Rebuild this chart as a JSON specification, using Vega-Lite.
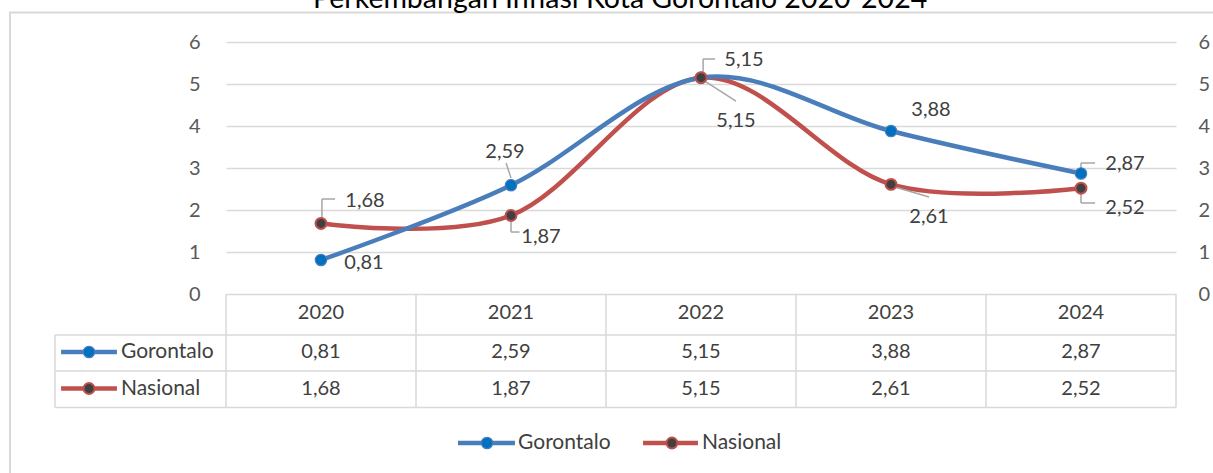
{
  "$schema": "https://vega.github.io/schema/vega-lite/v6.json",
  "autosize": "none",
  "width": 950,
  "height": 252,
  "padding": {"left": 226, "top": 42, "right": 37, "bottom": 179},
  "background": "white",
  "config": {
    "locale": {"number": {"decimal": ",", "thousands": ".", "grouping": [3], "currency": ["", ""]}},
    "view": {"stroke": null},
    "font": "Lato",
    "text": {"font": "Lato", "fontSize": 20, "color": "#404040"},
    "rule": {"color": "#A6A6A6", "strokeWidth": 1.5},
    "axis": {"title": null, "domain": false, "ticks": false, "grid": true, "gridColor": "#D9D9D9", "gridWidth": 1.5, "labelFont": "Lato", "labelFontSize": 20, "labelColor": "#595959", "format": "d", "values": [0, 1, 2, 3, 4, 5, 6]},
    "axisX": {"disable": true}
  },
  "datasets": {
    "inf": [
      {"year": 2020, "series": "Gorontalo", "value": 0.81},
      {"year": 2021, "series": "Gorontalo", "value": 2.59},
      {"year": 2022, "series": "Gorontalo", "value": 5.15},
      {"year": 2023, "series": "Gorontalo", "value": 3.88},
      {"year": 2024, "series": "Gorontalo", "value": 2.87},
      {"year": 2020, "series": "Nasional", "value": 1.68},
      {"year": 2021, "series": "Nasional", "value": 1.87},
      {"year": 2022, "series": "Nasional", "value": 5.15},
      {"year": 2023, "series": "Nasional", "value": 2.61},
      {"year": 2024, "series": "Nasional", "value": 2.52}
    ],
    "title": [{"label": "Perkembangan Inflasi Kota Gorontalo 2020-2024"}]
  },
  "data": {"name": "inf"},
  "layer": [
    {
      "layer": [
        {"data": {"values": [{}]}, "mark": {"type": "rect", "fill": null, "stroke": "#D9D9D9", "strokeWidth": 2},
          "encoding": {"x": {"datum": 2018.363, "type": "quantitative", "scale": {"domain": [2019.5, 2024.5], "nice": false, "zero": false}}, "x2": {"datum": 2025.5}, "y": {"datum": 6.702, "type": "quantitative", "scale": {"domain": [0, 6], "nice": false, "zero": false}}, "y2": {"datum": -5}}},
        {"data": {"name": "title"}, "mark": {"type": "text", "fontSize": 28.5, "color": "#000000", "baseline": "alphabetic", "align": "center"},
          "encoding": {"x": {"datum": 2021.574}, "y": {"datum": 6.81}, "text": {"field": "label"}}},
        {"data": {"values": [{}]}, "mark": {"type": "rule", "color": "#D9D9D9"}, "encoding": {"x": {"datum": 2018.6}, "x2": {"datum": 2024.5}, "y": {"datum": -0.976}}},
        {"data": {"values": [{}]}, "mark": {"type": "rule", "color": "#D9D9D9"}, "encoding": {"x": {"datum": 2018.6}, "x2": {"datum": 2024.5}, "y": {"datum": -1.833}}},
        {"data": {"values": [{}]}, "mark": {"type": "rule", "color": "#D9D9D9"}, "encoding": {"x": {"datum": 2018.6}, "x2": {"datum": 2024.5}, "y": {"datum": -2.702}}},
        {"data": {"values": [{}]}, "mark": {"type": "rule", "color": "#D9D9D9"}, "encoding": {"x": {"datum": 2018.6}, "y": {"datum": -0.976}, "y2": {"datum": -2.702}}},
        {"data": {"values": [{}]}, "mark": {"type": "rule", "color": "#D9D9D9"}, "encoding": {"x": {"datum": 2019.5}, "y": {"datum": 0}, "y2": {"datum": -2.702}}},
        {"data": {"values": [{}]}, "mark": {"type": "rule", "color": "#D9D9D9"}, "encoding": {"x": {"datum": 2020.5}, "y": {"datum": 0}, "y2": {"datum": -2.702}}},
        {"data": {"values": [{}]}, "mark": {"type": "rule", "color": "#D9D9D9"}, "encoding": {"x": {"datum": 2021.5}, "y": {"datum": 0}, "y2": {"datum": -2.702}}},
        {"data": {"values": [{}]}, "mark": {"type": "rule", "color": "#D9D9D9"}, "encoding": {"x": {"datum": 2022.5}, "y": {"datum": 0}, "y2": {"datum": -2.702}}},
        {"data": {"values": [{}]}, "mark": {"type": "rule", "color": "#D9D9D9"}, "encoding": {"x": {"datum": 2023.5}, "y": {"datum": 0}, "y2": {"datum": -2.702}}},
        {"data": {"values": [{}]}, "mark": {"type": "rule", "color": "#D9D9D9"}, "encoding": {"x": {"datum": 2024.5}, "y": {"datum": 0}, "y2": {"datum": -2.702}}},
        {"transform": [{"filter": "datum.series === 'Nasional'"}], "mark": {"type": "line", "interpolate": "cardinal", "tension": 0, "strokeWidth": 4.5, "color": "#C0504D"},
          "encoding": {"x": {"field": "year", "type": "quantitative"}, "y": {"field": "value", "type": "quantitative", "axis": {"orient": "left", "labelPadding": 26}}}},
        {"transform": [{"filter": "datum.series === 'Gorontalo'"}], "mark": {"type": "line", "interpolate": "cardinal", "tension": 0, "strokeWidth": 4.5, "color": "#4A7EBB"},
          "encoding": {"x": {"field": "year", "type": "quantitative"}, "y": {"field": "value", "type": "quantitative"}}},
        {"data": {"values": [{}]}, "mark": {"type": "rule"}, "encoding": {"x": {"datum": 2020.005}, "y": {"datum": 1.714}, "y2": {"datum": 2.262}}},
        {"data": {"values": [{}]}, "mark": {"type": "rule"}, "encoding": {"x": {"datum": 2020.005}, "x2": {"datum": 2020.074}, "y": {"datum": 2.262}}},
        {"data": {"values": [{}]}, "mark": {"type": "rule"}, "encoding": {"x": {"datum": 2020.974}, "y": {"datum": 3.119}, "x2": {"datum": 2021.0}, "y2": {"datum": 2.762}}},
        {"data": {"values": [{}]}, "mark": {"type": "rule"}, "encoding": {"x": {"datum": 2021.0}, "y": {"datum": 1.714}, "y2": {"datum": 1.476}}},
        {"data": {"values": [{}]}, "mark": {"type": "rule"}, "encoding": {"x": {"datum": 2021.0}, "x2": {"datum": 2021.045}, "y": {"datum": 1.476}}},
        {"data": {"values": [{}]}, "mark": {"type": "rule"}, "encoding": {"x": {"datum": 2022.011}, "y": {"datum": 5.286}, "y2": {"datum": 5.595}}},
        {"data": {"values": [{}]}, "mark": {"type": "rule"}, "encoding": {"x": {"datum": 2022.011}, "x2": {"datum": 2022.074}, "y": {"datum": 5.595}}},
        {"data": {"values": [{}]}, "mark": {"type": "rule"}, "encoding": {"x": {"datum": 2022.026}, "y": {"datum": 5.048}, "x2": {"datum": 2022.184}, "y2": {"datum": 4.595}}},
        {"data": {"values": [{}]}, "mark": {"type": "rule"}, "encoding": {"x": {"datum": 2023.021}, "y": {"datum": 2.548}, "x2": {"datum": 2023.2}, "y2": {"datum": 2.31}}},
        {"data": {"values": [{}]}, "mark": {"type": "rule"}, "encoding": {"x": {"datum": 2024.0}, "y": {"datum": 2.95}, "y2": {"datum": 3.119}}},
        {"data": {"values": [{}]}, "mark": {"type": "rule"}, "encoding": {"x": {"datum": 2024.0}, "x2": {"datum": 2024.074}, "y": {"datum": 3.119}}},
        {"data": {"values": [{}]}, "mark": {"type": "rule"}, "encoding": {"x": {"datum": 2024.0}, "y": {"datum": 2.4}, "y2": {"datum": 2.167}}},
        {"data": {"values": [{}]}, "mark": {"type": "rule"}, "encoding": {"x": {"datum": 2024.0}, "x2": {"datum": 2024.074}, "y": {"datum": 2.167}}},
        {"transform": [{"filter": "datum.series === 'Gorontalo'"}], "mark": {"type": "point", "filled": true, "size": 130, "fill": "#0070C0", "stroke": "#4A7EBB", "strokeWidth": 1.2, "opacity": 1},
          "encoding": {"x": {"field": "year", "type": "quantitative"}, "y": {"field": "value", "type": "quantitative"}}},
        {"transform": [{"filter": "datum.series === 'Nasional'"}], "mark": {"type": "point", "filled": true, "size": 120, "fill": "#404040", "stroke": "#C0504D", "strokeWidth": 2, "opacity": 1},
          "encoding": {"x": {"field": "year", "type": "quantitative"}, "y": {"field": "value", "type": "quantitative"}}},
        {"transform": [{"filter": "datum.series === 'Gorontalo' && datum.year === 2020"}], "mark": {"type": "text", "dx": 43, "dy": 3},
          "encoding": {"x": {"field": "year", "type": "quantitative"}, "y": {"field": "value", "type": "quantitative"}, "text": {"field": "value", "type": "quantitative", "format": ".2f"}}},
        {"transform": [{"filter": "datum.series === 'Nasional' && datum.year === 2020"}], "mark": {"type": "text", "dx": 44, "dy": -22},
          "encoding": {"x": {"field": "year", "type": "quantitative"}, "y": {"field": "value", "type": "quantitative"}, "text": {"field": "value", "type": "quantitative", "format": ".2f"}}},
        {"transform": [{"filter": "datum.series === 'Gorontalo' && datum.year === 2021"}], "mark": {"type": "text", "dx": -6, "dy": -33},
          "encoding": {"x": {"field": "year", "type": "quantitative"}, "y": {"field": "value", "type": "quantitative"}, "text": {"field": "value", "type": "quantitative", "format": ".2f"}}},
        {"transform": [{"filter": "datum.series === 'Nasional' && datum.year === 2021"}], "mark": {"type": "text", "dx": 30, "dy": 22},
          "encoding": {"x": {"field": "year", "type": "quantitative"}, "y": {"field": "value", "type": "quantitative"}, "text": {"field": "value", "type": "quantitative", "format": ".2f"}}},
        {"transform": [{"filter": "datum.series === 'Gorontalo' && datum.year === 2022"}], "mark": {"type": "text", "dx": 43, "dy": -18},
          "encoding": {"x": {"field": "year", "type": "quantitative"}, "y": {"field": "value", "type": "quantitative"}, "text": {"field": "value", "type": "quantitative", "format": ".2f"}}},
        {"transform": [{"filter": "datum.series === 'Nasional' && datum.year === 2022"}], "mark": {"type": "text", "dx": 35, "dy": 43},
          "encoding": {"x": {"field": "year", "type": "quantitative"}, "y": {"field": "value", "type": "quantitative"}, "text": {"field": "value", "type": "quantitative", "format": ".2f"}}},
        {"transform": [{"filter": "datum.series === 'Gorontalo' && datum.year === 2023"}], "mark": {"type": "text", "dx": 40, "dy": -21},
          "encoding": {"x": {"field": "year", "type": "quantitative"}, "y": {"field": "value", "type": "quantitative"}, "text": {"field": "value", "type": "quantitative", "format": ".2f"}}},
        {"transform": [{"filter": "datum.series === 'Nasional' && datum.year === 2023"}], "mark": {"type": "text", "dx": 38, "dy": 33},
          "encoding": {"x": {"field": "year", "type": "quantitative"}, "y": {"field": "value", "type": "quantitative"}, "text": {"field": "value", "type": "quantitative", "format": ".2f"}}},
        {"transform": [{"filter": "datum.series === 'Gorontalo' && datum.year === 2024"}], "mark": {"type": "text", "dx": 44, "dy": -9},
          "encoding": {"x": {"field": "year", "type": "quantitative"}, "y": {"field": "value", "type": "quantitative"}, "text": {"field": "value", "type": "quantitative", "format": ".2f"}}},
        {"transform": [{"filter": "datum.series === 'Nasional' && datum.year === 2024"}], "mark": {"type": "text", "dx": 44, "dy": 20},
          "encoding": {"x": {"field": "year", "type": "quantitative"}, "y": {"field": "value", "type": "quantitative"}, "text": {"field": "value", "type": "quantitative", "format": ".2f"}}},
        {"transform": [{"filter": "datum.series === 'Gorontalo'"}], "mark": {"type": "text"},
          "encoding": {"x": {"field": "year", "type": "quantitative"}, "y": {"datum": -0.452}, "text": {"field": "year", "type": "quantitative", "format": "d"}}},
        {"transform": [{"filter": "datum.series === 'Gorontalo'"}], "mark": {"type": "text"},
          "encoding": {"x": {"field": "year", "type": "quantitative"}, "y": {"datum": -1.381}, "text": {"field": "value", "type": "quantitative", "format": ".2f"}}},
        {"transform": [{"filter": "datum.series === 'Nasional'"}], "mark": {"type": "text"},
          "encoding": {"x": {"field": "year", "type": "quantitative"}, "y": {"datum": -2.25}, "text": {"field": "value", "type": "quantitative", "format": ".2f"}}},
        {"transform": [{"filter": "datum.series === 'Gorontalo' && datum.year === 2020"}], "mark": {"type": "rule", "color": "#4A7EBB", "strokeWidth": 4.5},
          "encoding": {"x": {"datum": 2018.632}, "x2": {"datum": 2018.926}, "y": {"datum": -1.381}}},
        {"transform": [{"filter": "datum.series === 'Gorontalo' && datum.year === 2020"}], "mark": {"type": "point", "filled": true, "size": 130, "fill": "#0070C0", "stroke": "#4A7EBB", "strokeWidth": 1.2, "opacity": 1},
          "encoding": {"x": {"datum": 2018.779}, "y": {"datum": -1.381}}},
        {"transform": [{"filter": "datum.series === 'Gorontalo' && datum.year === 2020"}], "mark": {"type": "text", "align": "left", "fontSize": 21},
          "encoding": {"x": {"datum": 2018.947}, "y": {"datum": -1.381}, "text": {"field": "series"}}},
        {"transform": [{"filter": "datum.series === 'Nasional' && datum.year === 2020"}], "mark": {"type": "rule", "color": "#C0504D", "strokeWidth": 4.5},
          "encoding": {"x": {"datum": 2018.632}, "x2": {"datum": 2018.926}, "y": {"datum": -2.25}}},
        {"transform": [{"filter": "datum.series === 'Nasional' && datum.year === 2020"}], "mark": {"type": "point", "filled": true, "size": 120, "fill": "#404040", "stroke": "#C0504D", "strokeWidth": 2, "opacity": 1},
          "encoding": {"x": {"datum": 2018.779}, "y": {"datum": -2.25}}},
        {"transform": [{"filter": "datum.series === 'Nasional' && datum.year === 2020"}], "mark": {"type": "text", "align": "left", "fontSize": 21},
          "encoding": {"x": {"datum": 2018.947}, "y": {"datum": -2.25}, "text": {"field": "series"}}},
        {"transform": [{"filter": "datum.series === 'Gorontalo' && datum.year === 2020"}], "mark": {"type": "rule", "color": "#4A7EBB", "strokeWidth": 4.5},
          "encoding": {"x": {"datum": 2020.721}, "x2": {"datum": 2021.021}, "y": {"datum": -3.548}}},
        {"transform": [{"filter": "datum.series === 'Gorontalo' && datum.year === 2020"}], "mark": {"type": "point", "filled": true, "size": 130, "fill": "#0070C0", "stroke": "#4A7EBB", "strokeWidth": 1.2, "opacity": 1},
          "encoding": {"x": {"datum": 2020.874}, "y": {"datum": -3.548}}},
        {"transform": [{"filter": "datum.series === 'Gorontalo' && datum.year === 2020"}], "mark": {"type": "text", "align": "left", "fontSize": 21},
          "encoding": {"x": {"datum": 2021.037}, "y": {"datum": -3.548}, "text": {"field": "series"}}},
        {"transform": [{"filter": "datum.series === 'Nasional' && datum.year === 2020"}], "mark": {"type": "rule", "color": "#C0504D", "strokeWidth": 4.5},
          "encoding": {"x": {"datum": 2021.695}, "x2": {"datum": 2021.984}, "y": {"datum": -3.548}}},
        {"transform": [{"filter": "datum.series === 'Nasional' && datum.year === 2020"}], "mark": {"type": "point", "filled": true, "size": 120, "fill": "#404040", "stroke": "#C0504D", "strokeWidth": 2, "opacity": 1},
          "encoding": {"x": {"datum": 2021.847}, "y": {"datum": -3.548}}},
        {"transform": [{"filter": "datum.series === 'Nasional' && datum.year === 2020"}], "mark": {"type": "text", "align": "left", "fontSize": 21},
          "encoding": {"x": {"datum": 2022.005}, "y": {"datum": -3.548}, "text": {"field": "series"}}}
      ]
    },
    {
      "mark": {"type": "point", "opacity": 0},
      "encoding": {
        "x": {"field": "year", "type": "quantitative"},
        "y": {"field": "value", "type": "quantitative", "scale": {"domain": [0, 6], "nice": false, "zero": false}, "axis": {"orient": "right", "labelPadding": 22, "grid": false}}
      }
    }
  ],
  "resolve": {"scale": {"y": "independent"}}
}
